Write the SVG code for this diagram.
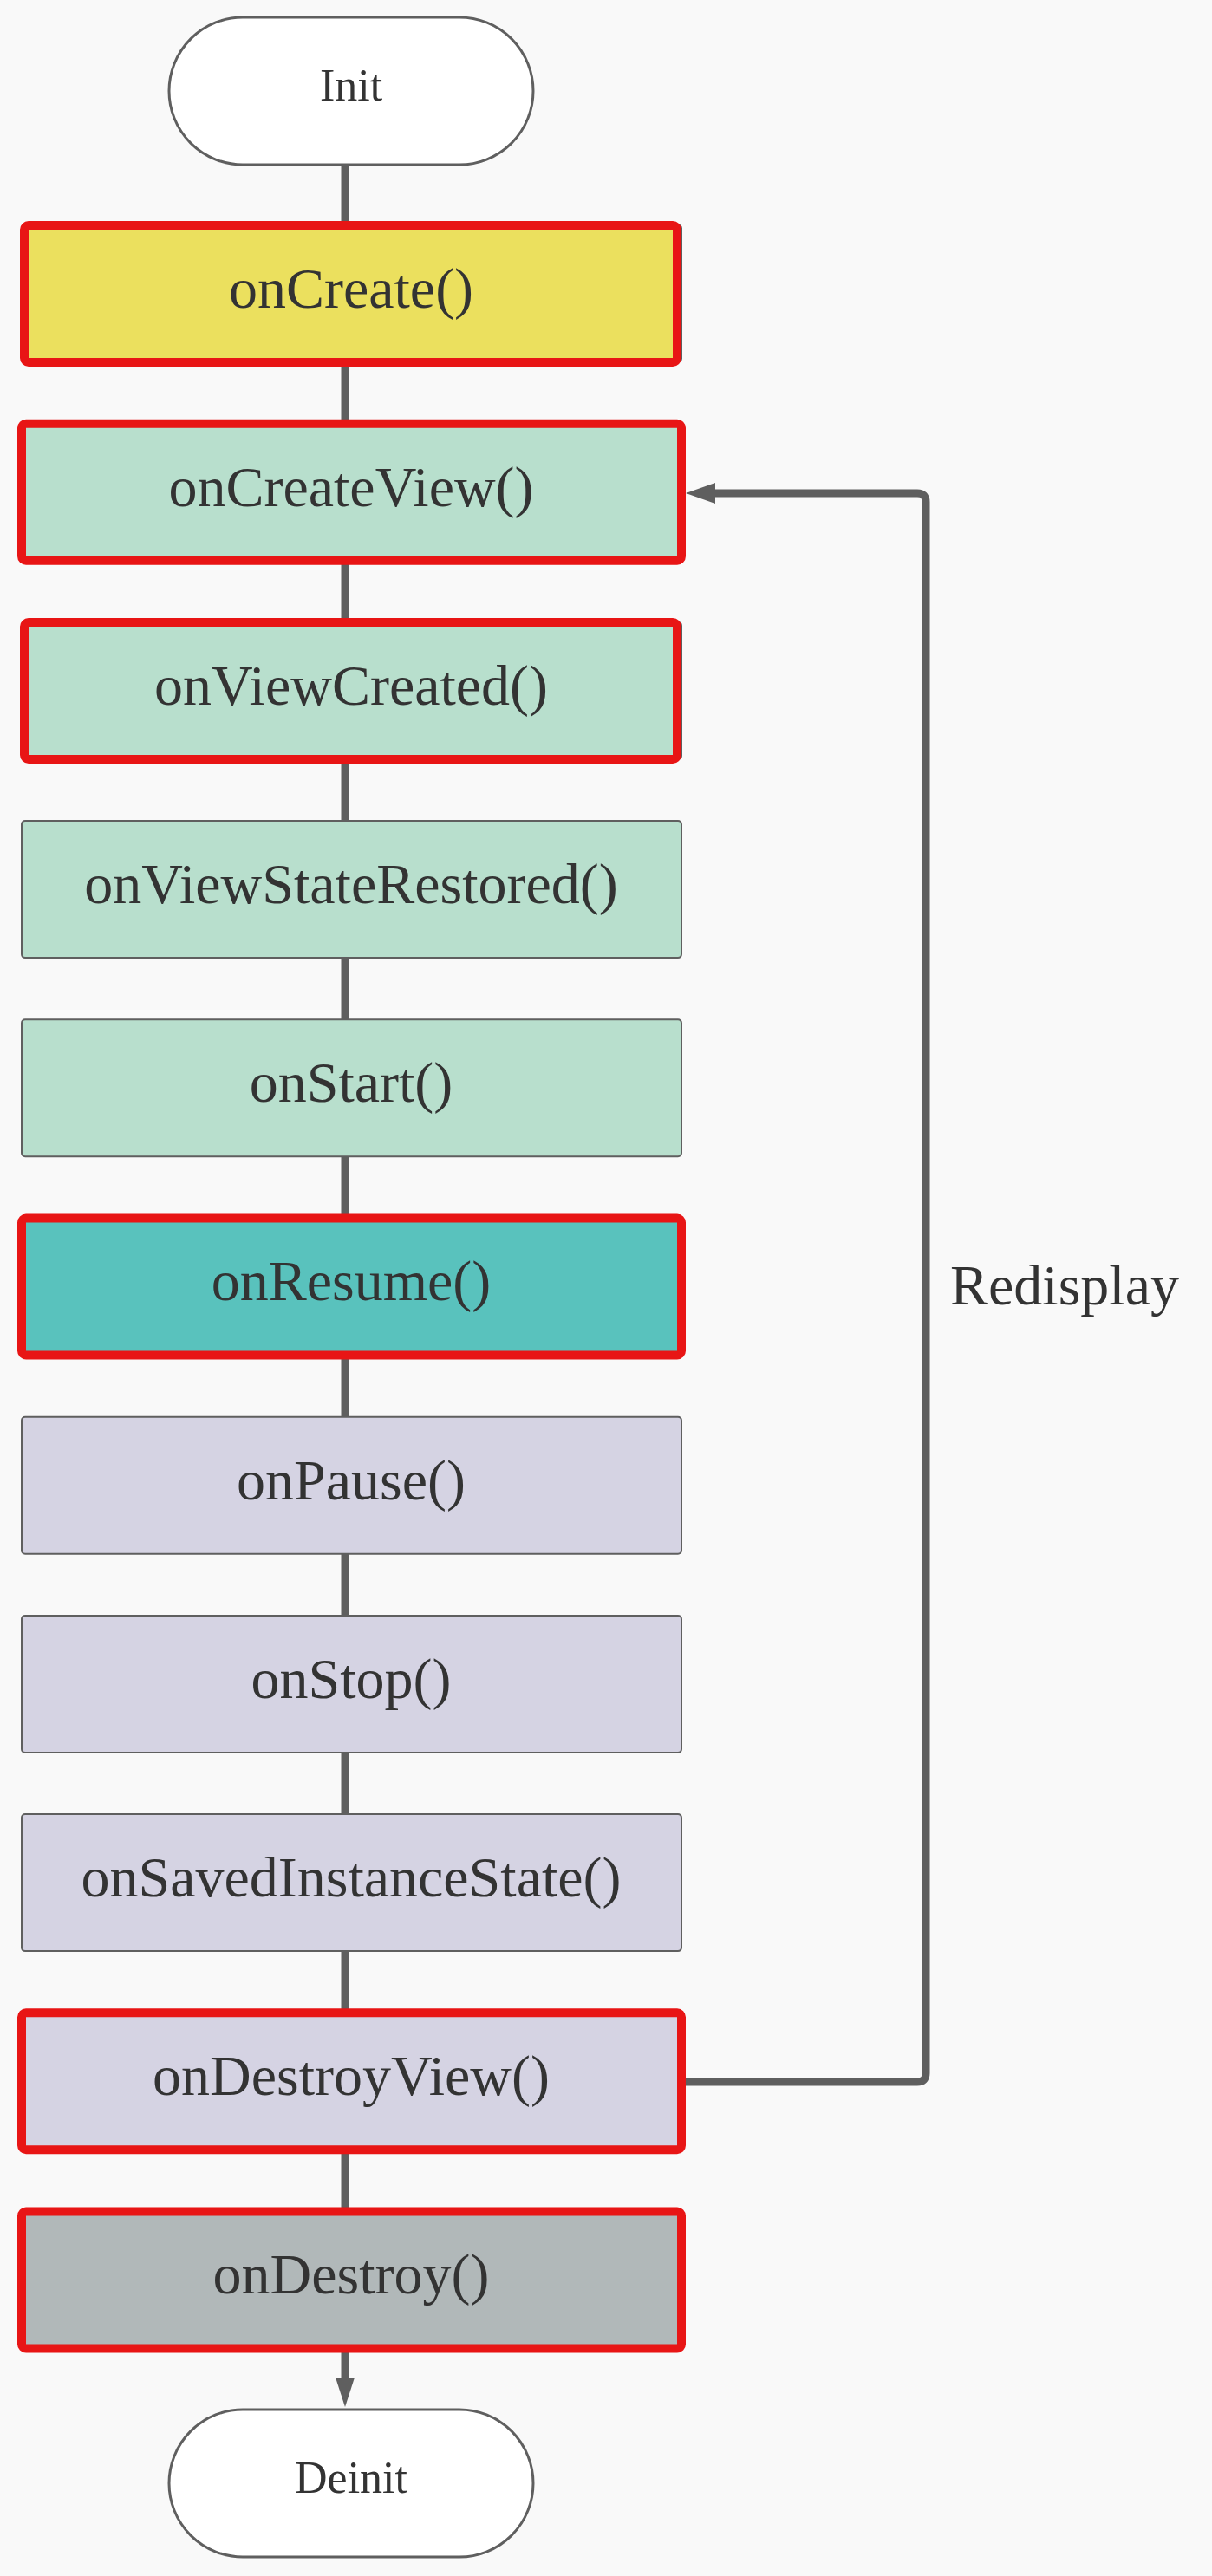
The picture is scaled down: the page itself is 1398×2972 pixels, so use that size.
<svg xmlns="http://www.w3.org/2000/svg" width="1398" height="2972" viewBox="0 0 1398 2972">
<style>
.bg{fill:#f9f9f9}
.term{fill:#ffffff;stroke:#5f5f5f;stroke-width:3}
.box{stroke:#5f5f5f;stroke-width:2}
.hl{fill:none;stroke:#e81515;stroke-width:10}
.lbl{font-family:"Liberation Serif","Times New Roman",serif;font-size:66px;fill:#333333;text-anchor:middle}
.tl{font-family:"Liberation Serif","Times New Roman",serif;font-size:52px;fill:#333333;text-anchor:middle}
.conn{stroke:#5f5f5f;stroke-width:9;fill:none}
.green{fill:#b8dfcd}
.purple{fill:#d5d3e3}
</style>
<defs>
<marker id="ah" markerUnits="userSpaceOnUse" viewBox="0 0 34 24" refX="0" refY="12" markerWidth="34" markerHeight="24" orient="auto">
<path d="M0,0 L34,12 L0,24 z" fill="#5f5f5f"/>
</marker>
<marker id="ah2" markerUnits="userSpaceOnUse" viewBox="0 0 34 22" refX="0" refY="11" markerWidth="34" markerHeight="22" orient="auto">
<path d="M0,0 L34,11 L0,22 z" fill="#5f5f5f"/>
</marker>
</defs>
<rect class="bg" x="0" y="0" width="1398" height="2972"/>

<g id="connectors">
<line class="conn" x1="398" y1="190" x2="398" y2="260"/>
<line class="conn" x1="398" y1="417" x2="398" y2="489"/>
<line class="conn" x1="398" y1="646" x2="398" y2="718"/>
<line class="conn" x1="398" y1="875" x2="398" y2="947"/>
<line class="conn" x1="398" y1="1105" x2="398" y2="1177"/>
<line class="conn" x1="398" y1="1334" x2="398" y2="1406"/>
<line class="conn" x1="398" y1="1563" x2="398" y2="1635"/>
<line class="conn" x1="398" y1="1792" x2="398" y2="1864"/>
<line class="conn" x1="398" y1="2021" x2="398" y2="2093"/>
<line class="conn" x1="398" y1="2251" x2="398" y2="2323"/>
<line class="conn" x1="398" y1="2480" x2="398" y2="2552"/>
<line class="conn" x1="398" y1="2709" x2="398" y2="2743" marker-end="url(#ah2)"/>
<path class="conn" d="M789,2402 H1058 Q1068,2402 1068,2392 V579 Q1068,569 1058,569 H825" marker-end="url(#ah)"/>
<text x="1096" y="1505" font-family="Liberation Serif, Times New Roman, serif" font-size="66" fill="#333333">Redisplay</text>
</g>

<g id="init">
<rect class="term" x="195" y="20" width="420" height="170" rx="85" ry="85"/>
<text class="tl" x="405" y="116">Init</text>
</g>

<g id="onCreate">
<rect class="box" fill="#ebe05e" x="25" y="259.5" width="761" height="158" rx="4"/>
<rect class="hl" x="28" y="260" width="753" height="158" rx="5"/>
<text class="lbl" x="405" y="355">onCreate()</text>
</g>

<g id="onCreateView">
<rect class="box green" x="25" y="488.7" width="761" height="158" rx="4"/>
<rect class="hl" x="25" y="488.7" width="761" height="158" rx="5"/>
<text class="lbl" x="405" y="584">onCreateView()</text>
</g>

<g id="onViewCreated">
<rect class="box green" x="25" y="717.9" width="761" height="158" rx="4"/>
<rect class="hl" x="28" y="718" width="753" height="158" rx="5"/>
<text class="lbl" x="405" y="813">onViewCreated()</text>
</g>

<g id="onViewStateRestored">
<rect class="box green" x="25" y="947.1" width="761" height="158" rx="4"/>
<text class="lbl" x="405" y="1042">onViewStateRestored()</text>
</g>

<g id="onStart">
<rect class="box green" x="25" y="1176.3" width="761" height="158" rx="4"/>
<text class="lbl" x="405" y="1271">onStart()</text>
</g>

<g id="onResume">
<rect class="box" fill="#59c2bd" x="25" y="1405.5" width="761" height="158" rx="4"/>
<rect class="hl" x="25" y="1405.5" width="761" height="158" rx="5"/>
<text class="lbl" x="405" y="1500">onResume()</text>
</g>

<g id="onPause">
<rect class="box purple" x="25" y="1634.7" width="761" height="158" rx="4"/>
<text class="lbl" x="405" y="1730">onPause()</text>
</g>

<g id="onStop">
<rect class="box purple" x="25" y="1863.9" width="761" height="158" rx="4"/>
<text class="lbl" x="405" y="1959">onStop()</text>
</g>

<g id="onSavedInstanceState">
<rect class="box purple" x="25" y="2093.1" width="761" height="158" rx="4"/>
<text class="lbl" x="405" y="2188">onSavedInstanceState()</text>
</g>

<g id="onDestroyView">
<rect class="box purple" x="25" y="2322.3" width="761" height="158" rx="4"/>
<rect class="hl" x="25" y="2322.3" width="761" height="158" rx="5"/>
<text class="lbl" x="405" y="2417">onDestroyView()</text>
</g>

<g id="onDestroy">
<rect class="box" fill="#b1b8b9" x="25" y="2551.5" width="761" height="158" rx="4"/>
<rect class="hl" x="25" y="2551.5" width="761" height="158" rx="5"/>
<text class="lbl" x="405" y="2646">onDestroy()</text>
</g>

<g id="deinit">
<rect class="term" x="195" y="2780" width="420" height="170" rx="85" ry="85"/>
<text class="tl" x="405" y="2876">Deinit</text>
</g>
</svg>
